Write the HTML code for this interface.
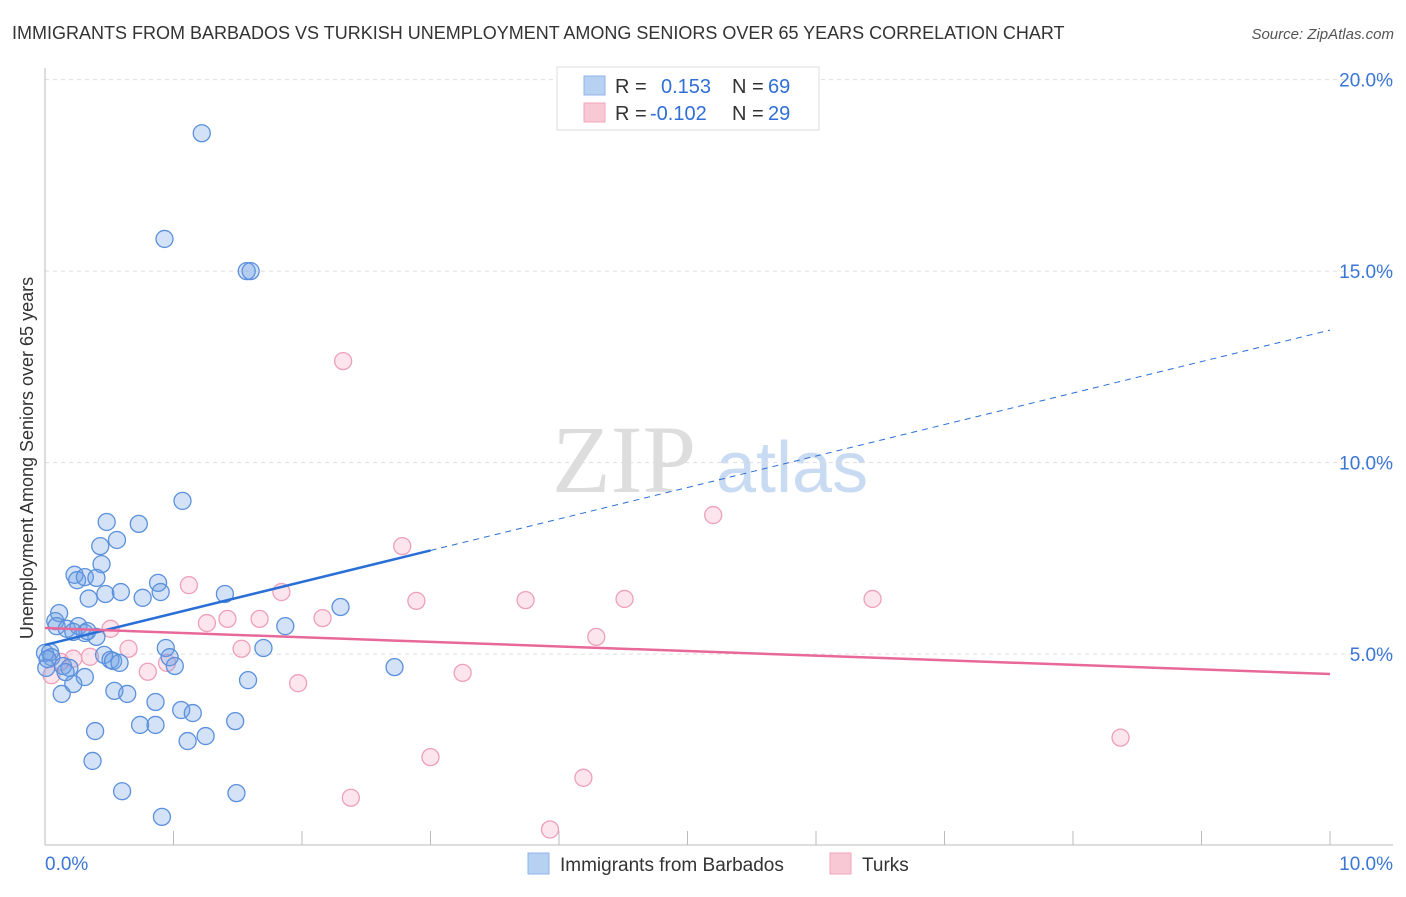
<!DOCTYPE html>
<html><head><meta charset="utf-8"><style>
body{margin:0;background:#fff;font-family:"Liberation Sans",sans-serif}
svg text{font-family:"Liberation Sans",sans-serif}
</style></head><body>
<svg id="c" width="1406" height="892" xmlns="http://www.w3.org/2000/svg">
<text x="12" y="39" font-size="18" fill="#333">IMMIGRANTS FROM BARBADOS VS TURKISH UNEMPLOYMENT AMONG SENIORS OVER 65 YEARS CORRELATION CHART</text>
<text x="1394" y="39" font-size="15" fill="#555" font-style="italic" text-anchor="end">Source: ZipAtlas.com</text>
<text x="33" y="458" font-size="18" fill="#333" text-anchor="middle" transform="rotate(-90 33 458)">Unemployment Among Seniors over 65 years</text>
<g><text x="552" y="492" font-size="96" fill="#ddd" font-family="Liberation Serif" style="font-family:'Liberation Serif',serif">ZIP</text><text x="716" y="492" font-size="72" fill="#c9dbf2">atlas</text></g>
<g id="grid"></g><g id="axes"></g><g id="pts"></g><g id="trend"></g>
<g>
<rect x="557" y="67" width="262" height="63" fill="#fff" stroke="#ddd"/>
<rect x="584" y="76" width="21" height="19" fill="#b7d1f3" stroke="#8fb3e8"/>
<rect x="584" y="103" width="21" height="19" fill="#f9c8d5" stroke="#f0a6bb"/>
<text x="615" y="93" font-size="20" fill="#333">R =</text><text x="661" y="93" font-size="20" fill="#2f6fd6">0.153</text>
<text x="732" y="93" font-size="20" fill="#333">N =</text><text x="768" y="93" font-size="20" fill="#2f6fd6">69</text>
<text x="615" y="120" font-size="20" fill="#333">R =</text><text x="650" y="120" font-size="20" fill="#2f6fd6">-0.102</text>
<text x="732" y="120" font-size="20" fill="#333">N =</text><text x="768" y="120" font-size="20" fill="#2f6fd6">29</text>
</g>
<g>
<rect x="528" y="853" width="21" height="21" fill="#b7d1f3" stroke="#8fb3e8"/>
<text x="560" y="871" font-size="19" fill="#333">Immigrants from Barbados</text>
<rect x="830" y="853" width="21" height="21" fill="#f9c8d5" stroke="#f0a6bb"/>
<text x="862" y="871" font-size="19" fill="#333">Turks</text>
</g>
</svg>
<script>
const yTicks=[5,10,15,20];
const yTickLabels=["5.0%","10.0%","15.0%","20.0%"];
const xTickLabels=["0.0%","10.0%"];
const blueX=[1.22,0.93,1.57,1.60,1.07,0.48,0.73,0.56,0.43,0.44,0.23,0.25,0.31,0.40,0.34,0.47,0.59,0.76,0.88,0.90,1.40,2.30,0.11,1.87,0.08,0.09,0.17,0.26,0.31,0.40,0.33,0.22,0.94,1.70,0.0,0.04,0.05,0.46,0.51,0.53,0.58,0.97,1.01,2.72,0.14,0.19,0.01,0.02,0.16,0.31,0.22,1.58,0.13,0.54,0.64,0.86,1.06,1.15,1.48,0.74,0.86,0.39,1.25,1.11,0.37,0.60,1.49,0.91];
const blueY=[18.60,15.84,15.0,15.0,9.0,8.45,8.40,7.98,7.82,7.35,7.07,6.93,7.01,6.99,6.45,6.57,6.62,6.47,6.86,6.62,6.57,6.23,6.07,5.73,5.86,5.73,5.66,5.73,5.55,5.45,5.60,5.58,5.16,5.16,5.03,5.05,4.92,4.98,4.85,4.82,4.77,4.92,4.69,4.66,4.69,4.64,4.64,4.87,4.53,4.40,4.22,4.32,3.96,4.04,3.96,3.75,3.54,3.46,3.25,3.15,3.15,2.99,2.86,2.73,2.21,1.42,1.37,0.75];
const pinkX=[2.32,5.20,2.78,1.12,1.84,2.89,3.74,4.51,6.44,1.42,1.26,1.67,2.16,0.51,4.29,0.65,1.53,0.35,0.12,0.22,0.95,0.80,3.25,0.05,1.97,3.00,4.19,2.38,3.93,8.37];
const pinkY=[12.65,8.63,7.82,6.80,6.62,6.39,6.41,6.44,6.44,5.92,5.81,5.92,5.94,5.66,5.45,5.14,5.14,4.93,4.80,4.88,4.77,4.54,4.51,4.45,4.24,2.31,1.77,1.25,0.42,2.82];
const blueTrend=[5.24,13.46];
const pinkTrend=[5.68,4.48];
const blueSolidEnd=3.0;
const X0=45,X1=1330,Y0=845.6,PXY=38.3;
const sx=v=>X0+v*(X1-X0)/10, sy=v=>Y0-v*PXY;
const NS="http://www.w3.org/2000/svg";
function mk(tag,attrs,parent){const e=document.createElementNS(NS,tag);for(const k in attrs)e.setAttribute(k,attrs[k]);document.getElementById(parent).appendChild(e);return e;}
yTicks.forEach((t,i)=>{
 const g=mk('line',{x1:45,x2:1393,y1:sy(t),y2:sy(t),stroke:'#ddd','stroke-dasharray':'4,4'},'grid');
 
 
 const l=mk('text',{x:1393,y:sy(t)+7,'font-size':19,fill:'#3b76d6','text-anchor':'end'},'grid');
 l.textContent=yTickLabels[i];
 
 
});
let a=mk('line',{x1:45,x2:45,y1:68,y2:845,stroke:'#bbb'},'axes');


a=mk('line',{x1:45,x2:1393,y1:845,y2:845,stroke:'#bbb'},'axes');


for(let i=1;i<=10;i++){const t=mk('line',{x1:sx(i),x2:sx(i),y1:831,y2:845,stroke:'#bbb'},'axes');
 
 }
[[0,'start',45],[10,'end',1393]].forEach((d,i)=>{const t=mk('text',{x:d[2],y:870,'font-size':19,fill:'#3b76d6','text-anchor':d[1]},'axes');t.textContent=xTickLabels[i];
 
 });
pinkX.forEach((x,i)=>{const c=mk('circle',{cx:sx(x),cy:sy(pinkY[i]),r:8.5,fill:'rgba(244,170,192,0.3)',stroke:'#eea0b8','stroke-width':1.3},'pts');
 
 });
blueX.forEach((x,i)=>{const c=mk('circle',{cx:sx(x),cy:sy(blueY[i]),r:8.5,fill:'rgba(110,160,230,0.3)',stroke:'#5b90dc','stroke-width':1.3},'pts');
 
 });
const by=x=>blueTrend[0]+(blueTrend[1]-blueTrend[0])*x/10;
let l=mk('line',{x1:sx(0),y1:sy(by(0)),x2:sx(blueSolidEnd),y2:sy(by(blueSolidEnd)),stroke:'#2a6fd6','stroke-width':2.5},'trend');


l=mk('line',{x1:sx(blueSolidEnd),y1:sy(by(blueSolidEnd)),x2:sx(10),y2:sy(by(10)),stroke:'#2a6fd6','stroke-width':1,'stroke-dasharray':'6,5'},'trend');


l=mk('line',{x1:sx(0),y1:sy(pinkTrend[0]),x2:sx(10),y2:sy(pinkTrend[1]),stroke:'#e8689a','stroke-width':2.5},'trend');


</script>
</body></html>
